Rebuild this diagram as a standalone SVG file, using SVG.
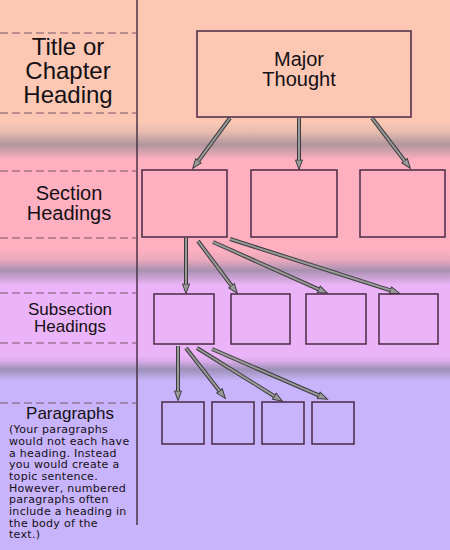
<svg xmlns="http://www.w3.org/2000/svg" width="450" height="550" viewBox="0 0 450 550">
<defs>
<linearGradient id="g1" x1="0" y1="122" x2="0" y2="160" gradientUnits="userSpaceOnUse">
<stop offset="0" stop-color="#fcc8b4"/><stop offset="0.25" stop-color="#e8bcb0"/><stop offset="0.6" stop-color="#b0969e"/><stop offset="1" stop-color="#ffb0c0"/>
</linearGradient>
<linearGradient id="g2" x1="0" y1="250" x2="0" y2="285" gradientUnits="userSpaceOnUse">
<stop offset="0" stop-color="#ffb0c0"/><stop offset="0.3" stop-color="#e8a8bc"/><stop offset="0.58" stop-color="#a890b0"/><stop offset="1" stop-color="#ecb4f8"/>
</linearGradient>
<linearGradient id="g3" x1="0" y1="355" x2="0" y2="381" gradientUnits="userSpaceOnUse">
<stop offset="0" stop-color="#ecb4f8"/><stop offset="0.25" stop-color="#d8aae8"/><stop offset="0.55" stop-color="#9c90b8"/><stop offset="1" stop-color="#c8b4fa"/>
</linearGradient>
<marker id="ah" markerUnits="userSpaceOnUse" markerWidth="12" markerHeight="10" viewBox="-1 -5 12 10" refX="0" refY="0" orient="auto">
<path d="M0,-3.5 L9.5,0 L0,3.5 Z" fill="#9a9a9a" stroke="#3c3c3c" stroke-width="1"/>
</marker>
<style>
.dash{stroke:#7a5468;stroke-width:1.2;stroke-dasharray:8 4;fill:none}
.box{fill:none;stroke:#4a2844;stroke-width:1.5}
.lbl{font-family:"Liberation Sans",Arial,sans-serif;fill:#141014;text-anchor:middle}
.note{font-family:"DejaVu Sans",Verdana,sans-serif;font-size:11px;letter-spacing:0.3px;fill:#141014}
.outer{stroke:#3c3c3c;stroke-width:4;fill:none}
.inner{stroke:#9a9a9a;stroke-width:2;fill:none}
</style>
</defs>
<g id="background">
<rect x="0" y="0" width="450" height="123" fill="#fcc8b4"/>
<rect x="0" y="122" width="450" height="38" fill="url(#g1)"/>
<rect x="0" y="160" width="450" height="91" fill="#ffb0c0"/>
<rect x="0" y="250" width="450" height="35" fill="url(#g2)"/>
<rect x="0" y="285" width="450" height="71" fill="#ecb4f8"/>
<rect x="0" y="355" width="450" height="26" fill="url(#g3)"/>
<rect x="0" y="381" width="450" height="169" fill="#c8b4fa"/>
<line x1="137" y1="0" x2="137" y2="525" stroke="#4a3446" stroke-width="1.5"/>
<line class="dash" x1="0" y1="33" x2="137" y2="33"/>
<line class="dash" x1="0" y1="113" x2="137" y2="113"/>
<line class="dash" x1="0" y1="171" x2="137" y2="171"/>
<line class="dash" x1="0" y1="238" x2="137" y2="238"/>
<line class="dash" x1="0" y1="293" x2="137" y2="293"/>
<line class="dash" x1="0" y1="343" x2="137" y2="343"/>
<line class="dash" x1="0" y1="403" x2="137" y2="403"/>
</g>
<g id="labels">
<text class="lbl" font-size="24" x="68" y="55">Title or</text>
<text class="lbl" font-size="24" x="68" y="79">Chapter</text>
<text class="lbl" font-size="24" x="68" y="103">Heading</text>
<text class="lbl" font-size="20" x="69" y="200">Section</text>
<text class="lbl" font-size="20" x="69" y="220">Headings</text>
<text class="lbl" font-size="17" x="70" y="315">Subsection</text>
<text class="lbl" font-size="17" x="70" y="332">Headings</text>
<text class="lbl" font-size="17" x="70" y="419">Paragraphs</text>
<text class="note" x="9" y="433.3">(Your paragraphs</text>
<text class="note" x="9" y="445">would not each have</text>
<text class="note" x="9" y="456.7">a heading. Instead</text>
<text class="note" x="9" y="468.3">you would create a</text>
<text class="note" x="9" y="480">topic sentence.</text>
<text class="note" x="9" y="491.7">However, numbered</text>
<text class="note" x="9" y="503.3">paragraphs often</text>
<text class="note" x="9" y="515">include a heading in</text>
<text class="note" x="9" y="526.7">the body of the</text>
<text class="note" x="9" y="538.3">text.)</text>
</g>
<g id="connectors">
<g><line class="outer" x1="230" y1="118" x2="198.4" y2="160.8" marker-end="url(#ah)"/><line class="inner" x1="230" y1="118" x2="198.4" y2="160.8"/></g>
<g><line class="outer" x1="299" y1="118" x2="299" y2="160" marker-end="url(#ah)"/><line class="inner" x1="299" y1="118" x2="299" y2="160"/></g>
<g><line class="outer" x1="372" y1="118" x2="404.6" y2="160.8" marker-end="url(#ah)"/><line class="inner" x1="372" y1="118" x2="404.6" y2="160.8"/></g>
<g><line class="outer" x1="186" y1="238" x2="186" y2="284" marker-end="url(#ah)"/><line class="inner" x1="186" y1="238" x2="186" y2="284"/></g>
<g><line class="outer" x1="198" y1="241" x2="231.6" y2="285.8" marker-end="url(#ah)"/><line class="inner" x1="198" y1="241" x2="231.6" y2="285.8"/></g>
<g><line class="outer" x1="213" y1="242" x2="318.8" y2="289.3" marker-end="url(#ah)"/><line class="inner" x1="213" y1="242" x2="318.8" y2="289.3"/></g>
<g><line class="outer" x1="230" y1="239" x2="390.4" y2="290.3" marker-end="url(#ah)"/><line class="inner" x1="230" y1="239" x2="390.4" y2="290.3"/></g>
<g><line class="outer" x1="178" y1="346" x2="178" y2="391" marker-end="url(#ah)"/><line class="inner" x1="178" y1="346" x2="178" y2="391"/></g>
<g><line class="outer" x1="186" y1="348" x2="219.5" y2="390.9" marker-end="url(#ah)"/><line class="inner" x1="186" y1="348" x2="219.5" y2="390.9"/></g>
<g><line class="outer" x1="197" y1="348" x2="274.4" y2="396.2" marker-end="url(#ah)"/><line class="inner" x1="197" y1="348" x2="274.4" y2="396.2"/></g>
<g><line class="outer" x1="212" y1="349" x2="318.7" y2="395.4" marker-end="url(#ah)"/><line class="inner" x1="212" y1="349" x2="318.7" y2="395.4"/></g>
</g>
<g id="major-thought">
<rect class="box" x="197" y="31" width="214" height="86"/>
<text class="lbl" font-size="20" x="299" y="66">Major</text>
<text class="lbl" font-size="20" x="299" y="86">Thought</text>
</g>
<g id="section-1"><rect class="box" x="142" y="170" width="85" height="67"/></g>
<g id="section-2"><rect class="box" x="251" y="170" width="86" height="67"/></g>
<g id="section-3"><rect class="box" x="360" y="170" width="85" height="67"/></g>
<g id="subsection-1"><rect class="box" x="154" y="294" width="60" height="50"/></g>
<g id="subsection-2"><rect class="box" x="231" y="294" width="59" height="50"/></g>
<g id="subsection-3"><rect class="box" x="306" y="294" width="60" height="50"/></g>
<g id="subsection-4"><rect class="box" x="379" y="294" width="59" height="50"/></g>
<g id="paragraph-1"><rect class="box" x="162" y="402" width="42" height="42"/></g>
<g id="paragraph-2"><rect class="box" x="212" y="402" width="42" height="42"/></g>
<g id="paragraph-3"><rect class="box" x="262" y="402" width="42" height="42"/></g>
<g id="paragraph-4"><rect class="box" x="312" y="402" width="42" height="42"/></g>
</svg>
